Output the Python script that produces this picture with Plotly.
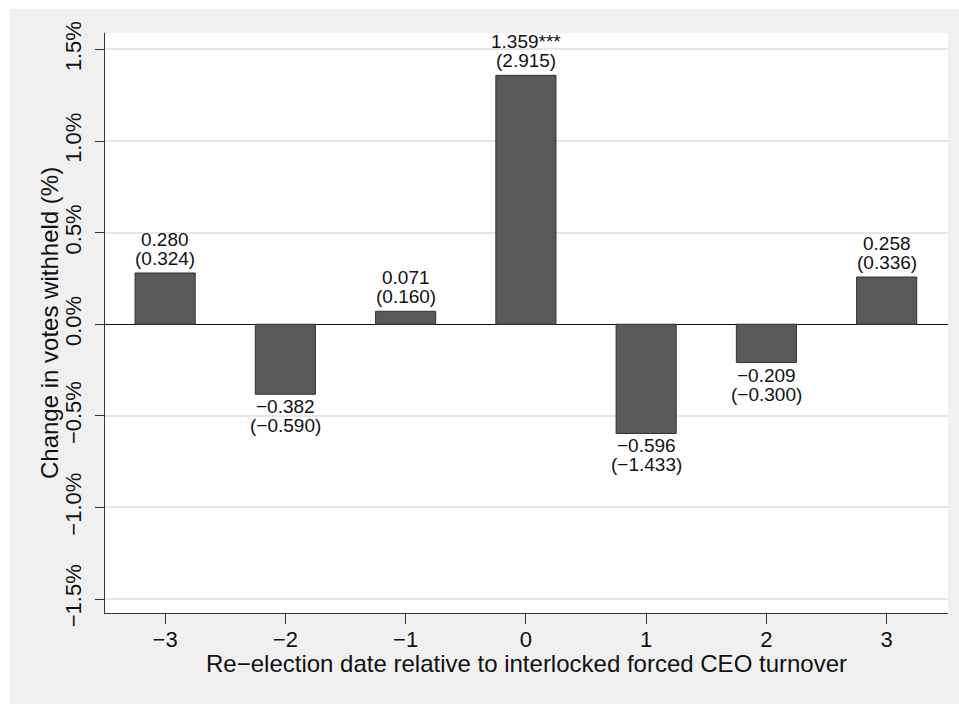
import plotly.graph_objects as go

# Event-time bins relative to the interlocked forced CEO turnover
periods = [-3, -2, -1, 0, 1, 2, 3]
# Estimated change in votes withheld (percentage points)
coefs = [0.280, -0.382, 0.071, 1.359, -0.596, -0.209, 0.258]
# t-statistics shown in parentheses
tstats = [0.324, -0.590, 0.160, 2.915, -1.433, -0.300, 0.336]
# significance markers
stars = ["", "", "", "***", "", "", ""]

y_tickvals = [-1.5, -1.0, -0.5, 0.0, 0.5, 1.0, 1.5]
y_ticktext = ["\u22121.5%", "\u22121.0%", "\u22120.5%", "0.0%", "0.5%", "1.0%", "1.5%"]
x_ticktext = ["\u22123", "\u22122", "\u22121", "0", "1", "2", "3"]

FONT = "Liberation Sans, Arial, Helvetica, sans-serif"
LABEL_SIZE = 19


def fmt(v):
    return f"{v:.3f}".replace("-", "\u2212")


fig = go.Figure()
fig.add_trace(go.Bar(
    x=periods,
    y=coefs,
    width=0.5,
    marker=dict(color="#595959", line=dict(color="#333333", width=1)),
    hoverinfo="skip",
))

annotations = []
for p, c, t, s in zip(periods, coefs, tstats, stars):
    lab_font = dict(size=LABEL_SIZE, color="#111111", family=FONT)
    if c >= 0:
        annotations.append(dict(x=p, y=c, xref="x", yref="y", text=fmt(c) + s,
                                showarrow=False, yanchor="bottom", yshift=21, font=lab_font))
        annotations.append(dict(x=p, y=c, xref="x", yref="y", text="(" + fmt(t) + ")",
                                showarrow=False, yanchor="bottom", yshift=2, font=lab_font))
    else:
        annotations.append(dict(x=p, y=c, xref="x", yref="y", text=fmt(c) + s,
                                showarrow=False, yanchor="top", yshift=0, font=lab_font))
        annotations.append(dict(x=p, y=c, xref="x", yref="y", text="(" + fmt(t) + ")",
                                showarrow=False, yanchor="top", yshift=-19, font=lab_font))

# axis titles
annotations.append(dict(x=0.5, y=0, xref="paper", yref="paper",
                        text="Re\u2212election date relative to interlocked forced CEO turnover",
                        showarrow=False, xanchor="center", yanchor="middle", yshift=-50,
                        font=dict(size=24, color="#111111", family=FONT)))
annotations.append(dict(x=0, y=0.5, xref="paper", yref="paper",
                        text="Change in votes withheld (%)", textangle=-90,
                        showarrow=False, xanchor="center", yanchor="middle", xshift=-56,
                        font=dict(size=24, color="#111111", family=FONT)))

# white outer strips around the grey graph region
shapes = [
    dict(type="rect", xref="paper", yref="paper", x0=-0.3, x1=1.2, y0=1.0414, y1=1.2,
         fillcolor="white", line=dict(width=0), layer="below"),
    dict(type="rect", xref="paper", yref="paper", x0=-0.3, x1=-0.1127, y0=-0.3, y1=1.2,
         fillcolor="white", line=dict(width=0), layer="below"),
]

fig.update_layout(
    width=959,
    height=704,
    margin=dict(l=105, r=11, t=33, b=91),
    paper_bgcolor="#f0f0f0",
    plot_bgcolor="white",
    showlegend=False,
    annotations=annotations,
    shapes=shapes,
    font=dict(family=FONT, color="#111111"),
    xaxis=dict(
        range=[-3.5, 3.51],
        tickvals=periods,
        ticktext=x_ticktext,
        ticks="outside",
        ticklen=10,
        tickwidth=1.3,
        tickcolor="#333333",
        ticklabelstandoff=-4,
        showgrid=False,
        zeroline=False,
        showline=True,
        linecolor="#333333",
        linewidth=1.3,
        tickfont=dict(size=22, color="#111111", family=FONT),
        fixedrange=True,
    ),
    yaxis=dict(
        range=[-1.576, 1.590],
        tickvals=y_tickvals,
        ticktext=y_ticktext,
        tickangle=-90,
        ticks="outside",
        ticklen=9,
        tickwidth=1.3,
        tickcolor="#333333",
        ticklabelstandoff=5,
        showgrid=True,
        gridcolor="#e6e6e6",
        gridwidth=1.5,
        zeroline=True,
        zerolinecolor="#111111",
        zerolinewidth=1.3,
        showline=True,
        linecolor="#333333",
        linewidth=1.3,
        tickfont=dict(size=22, color="#111111", family=FONT),
        fixedrange=True,
    ),
)

fig.write_html("out.html")
